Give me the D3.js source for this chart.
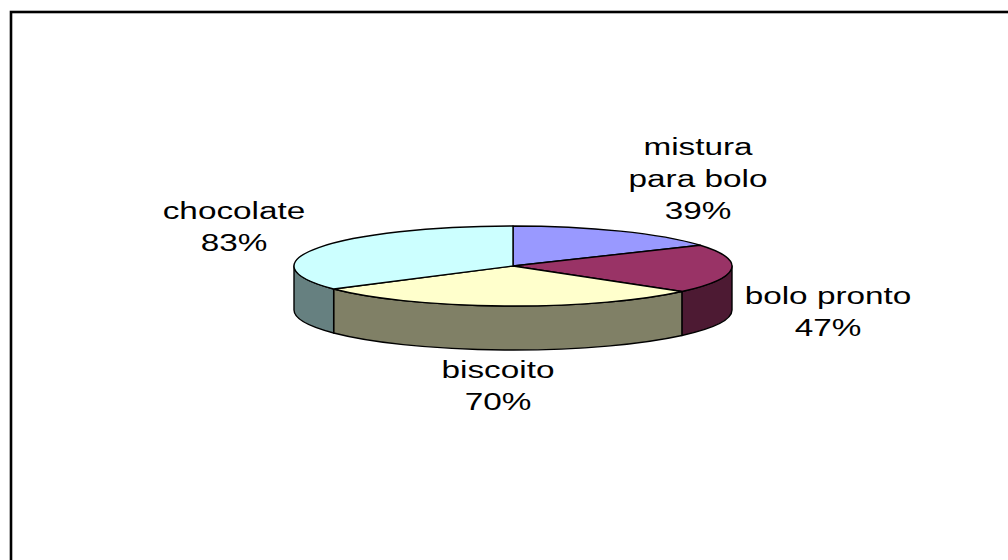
<!DOCTYPE html>
<html>
<head>
<meta charset="utf-8">
<script src="https://cdn.jsdelivr.net/npm/d3@7"></script>
<style>
html,body{margin:0;padding:0;background:#fff;}
svg{display:block;}
text{font-family:"Liberation Sans",Arial,sans-serif;fill:#000;}
</style>
</head>
<body>
<svg id="chart" width="1008" height="560"></svg>
<script>
const categories = ["mistura para bolo", "bolo pronto", "biscoito", "chocolate"];
const values = [39, 47, 70, 83];
const labelLines = [["mistura", "para bolo", "39%"], ["bolo pronto", "47%"], ["biscoito", "70%"], ["chocolate", "83%"]];
const topColors = ["#9999FF", "#993366", "#FFFFCC", "#CCFFFF"];
const sideColors = ["#4D4D80", "#4D1A33", "#808066", "#668080"];

const svg = d3.select("#chart");
const W = 1008, H = 560;

// frame (extends beyond the right and bottom edge as in the reference)
svg.append("rect").attr("x", 11).attr("y", 12).attr("width", 1100).attr("height", 700)
  .attr("fill", "none").attr("stroke", "#000").attr("stroke-width", 2.6);

const cx = 513, cy = 266, rx = 219, ry = 40, depth = 44;

const pie = d3.pie().sort(null).startAngle(0).endAngle(2 * Math.PI);
const arcs = pie(values);

const pt = (a, dy = 0) => [cx + rx * Math.sin(a), cy - ry * Math.cos(a) + dy];

const g = svg.append("g");

// side walls (front half: angles between PI/2 and 3PI/2)
arcs.forEach((d, i) => {
  const s = Math.max(d.startAngle, Math.PI / 2);
  const e = Math.min(d.endAngle, 3 * Math.PI / 2);
  if (e <= s) return;
  const p0 = pt(s), p1 = pt(e), p2 = pt(e, depth), p3 = pt(s, depth);
  const large = (e - s) > Math.PI ? 1 : 0;
  const path = `M${p0[0]},${p0[1]} A${rx},${ry} 0 ${large} 1 ${p1[0]},${p1[1]} L${p2[0]},${p2[1]} A${rx},${ry} 0 ${large} 0 ${p3[0]},${p3[1]} Z`;
  g.append("path").attr("d", path).attr("fill", sideColors[i])
    .attr("stroke", "#000").attr("stroke-width", 1.4).attr("stroke-linejoin", "round");
});

// top faces
arcs.forEach((d, i) => {
  const p0 = pt(d.startAngle), p1 = pt(d.endAngle);
  const large = (d.endAngle - d.startAngle) > Math.PI ? 1 : 0;
  const path = `M${cx},${cy} L${p0[0]},${p0[1]} A${rx},${ry} 0 ${large} 1 ${p1[0]},${p1[1]} Z`;
  g.append("path").attr("d", path).attr("fill", topColors[i])
    .attr("stroke", "#000").attr("stroke-width", 1.4).attr("stroke-linejoin", "round");
});

// labels
const labelPos = [[698, 155], [828, 304], [498, 378], [234, 219]];
const lineGap = 32, fontSize = 24.5, stretch = 1.36;
arcs.forEach((d, i) => {
  const [lx, ly] = labelPos[i];
  labelLines[i].forEach((t, j) => {
    svg.append("text")
      .attr("transform", `translate(${lx},${ly + j * lineGap}) scale(${stretch},1)`)
      .attr("text-anchor", "middle")
      .attr("font-size", fontSize)
      .text(t);
  });
});
</script>
</body>
</html>
